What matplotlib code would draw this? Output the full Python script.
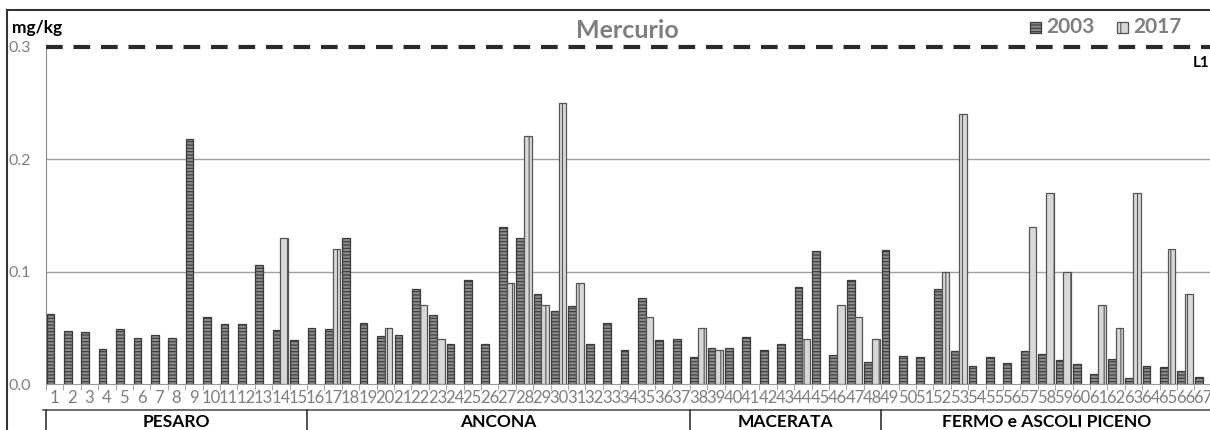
import matplotlib
matplotlib.use('Agg')
import matplotlib.pyplot as plt
from matplotlib.lines import Line2D
from matplotlib.patches import Rectangle

plt.rcParams['font.family'] = ['Lato', 'DejaVu Sans']
plt.rcParams['hatch.linewidth'] = 0.8

stations = list(range(1, 68))
v2003 = [0.062, 0.047, 0.046, 0.031, 0.049, 0.041, 0.044, 0.041, 0.218, 0.060,
         0.053, 0.053, 0.106, 0.048, 0.039,
         0.050, 0.049, 0.130, 0.054, 0.043, 0.044, 0.085, 0.061, 0.036, 0.093,
         0.036, 0.140, 0.130, 0.080, 0.065, 0.069, 0.036, 0.054, 0.030, 0.077,
         0.039, 0.040,
         0.024, 0.032, 0.032, 0.042, 0.030, 0.036, 0.086, 0.118, 0.026, 0.093,
         0.020, 0.119,
         0.025, 0.024, 0.085, 0.029, 0.016, 0.024, 0.019, 0.029, 0.027, 0.021,
         0.018, 0.009, 0.022, 0.005, 0.016, 0.015, 0.012, 0.006]
v2017 = [None]*67
for st, v in [(14, 0.130), (17, 0.120), (20, 0.050), (22, 0.070), (23, 0.040),
              (27, 0.090), (28, 0.221), (29, 0.070), (30, 0.250), (31, 0.090),
              (35, 0.060), (38, 0.050), (39, 0.030), (44, 0.040), (46, 0.070),
              (47, 0.060), (48, 0.040), (52, 0.100), (53, 0.240), (57, 0.140),
              (58, 0.170), (59, 0.100), (61, 0.070), (62, 0.050), (63, 0.170),
              (65, 0.120), (66, 0.080)]:
  v2017[st-1] = v
regions = ['PESARO', 'ANCONA', 'MACERATA', 'FERMO e ASCOLI PICENO']
region_first = [1, 16, 38, 49]
region_last = [15, 37, 48, 67]
limit_L1 = 0.3

grey = '#7f7f7f'
fig = plt.figure(figsize=(12.1, 4.3), dpi=100)
ax = fig.add_axes([46/1210, 46/430, 1-46/1210, 337/430])

c03 = dict(facecolor='#8a8a8a', edgecolor='#3a3a3a', hatch='-----', linewidth=0.9)
c17 = dict(facecolor='#d8d8d8', edgecolor='#555555', hatch='||', linewidth=0.9)
ax.bar([s-0.47 for s in stations], v2003, width=0.44, align='edge', zorder=3, **c03)
x17 = [s-0.03 for s, v in zip(stations, v2017) if v is not None]
h17 = [v for v in v2017 if v is not None]
ax.bar(x17, h17, width=0.44, align='edge', zorder=3, **c17)

ax.set_xlim(0.5, 67.4)
ax.set_ylim(0, 0.3)
for y in (0.1, 0.2):
  ax.axhline(y, color='#a0a0a0', lw=1, zorder=1)
ax.axhline(limit_L1, color='#2a2a2a', lw=3, dashes=(4, 2.6), zorder=4, clip_on=False)
ax.text(67.35, 0.292, 'L1', ha='right', va='top', fontsize=11, fontweight='bold')

for sp in ('top', 'right'):
  ax.spines[sp].set_visible(False)
ax.spines['left'].set_color('#888888')
ax.spines['bottom'].set_color('#999999')

ax.set_xticks(stations)
ax.set_xticklabels([str(s) for s in stations], fontsize=12, color=grey)
ax.set_xticks([s+0.5 for s in range(0, 67)], minor=True)
ax.tick_params(axis='x', which='major', length=0, pad=4)
ax.tick_params(axis='x', which='minor', length=4, color='#999999')
ax.set_yticks([0, 0.1, 0.2, 0.3])
ax.set_yticklabels(['0.0', '0.1', '0.2', '0.3'], fontsize=11.5, color=grey)
ax.tick_params(axis='y', length=0, pad=11)

# region boxes under the axis
tr = ax.get_xaxis_transform()
ax.add_line(Line2D([0.5-0.15, 67.4], [-0.077, -0.077], transform=tr, color='#555555', lw=1.2, clip_on=False))
for a, b, name in zip(region_first, region_last, regions):
  ax.add_line(Line2D([a-0.5, a-0.5], [-0.077, -0.16], transform=tr, color='#333333', lw=1.2, clip_on=False))
  ax.text((a+b)/2, -0.113, name, transform=tr, ha='center', va='center', fontsize=12.5, fontweight='bold')

# outer frame
fig.add_artist(Line2D([7/1210, 1], [1-10/430, 1-10/430], color='#333333', lw=1.5))
fig.add_artist(Line2D([7/1210, 7/1210], [0, 1-10/430], color='#333333', lw=1.5))

fig.text(12/1210, 1-28/430, 'mg/kg', fontsize=12.5, fontweight='bold', va='center')
fig.text(627/1210, 1-31/430, 'Mercurio', fontsize=18, fontweight='bold', color=grey, ha='center', va='center')

# legend
for x0, lab, c in [(1030, '2003', c03), (1117, '2017', c17)]:
  fig.add_artist(Rectangle((x0/1210, 1-33/430), 11/1210, 11/430, **c))
  fig.text((x0+16)/1210, 1-27/430, lab, fontsize=15, fontweight='bold', color=grey, va='center')

fig.savefig('out.png', dpi=100)
